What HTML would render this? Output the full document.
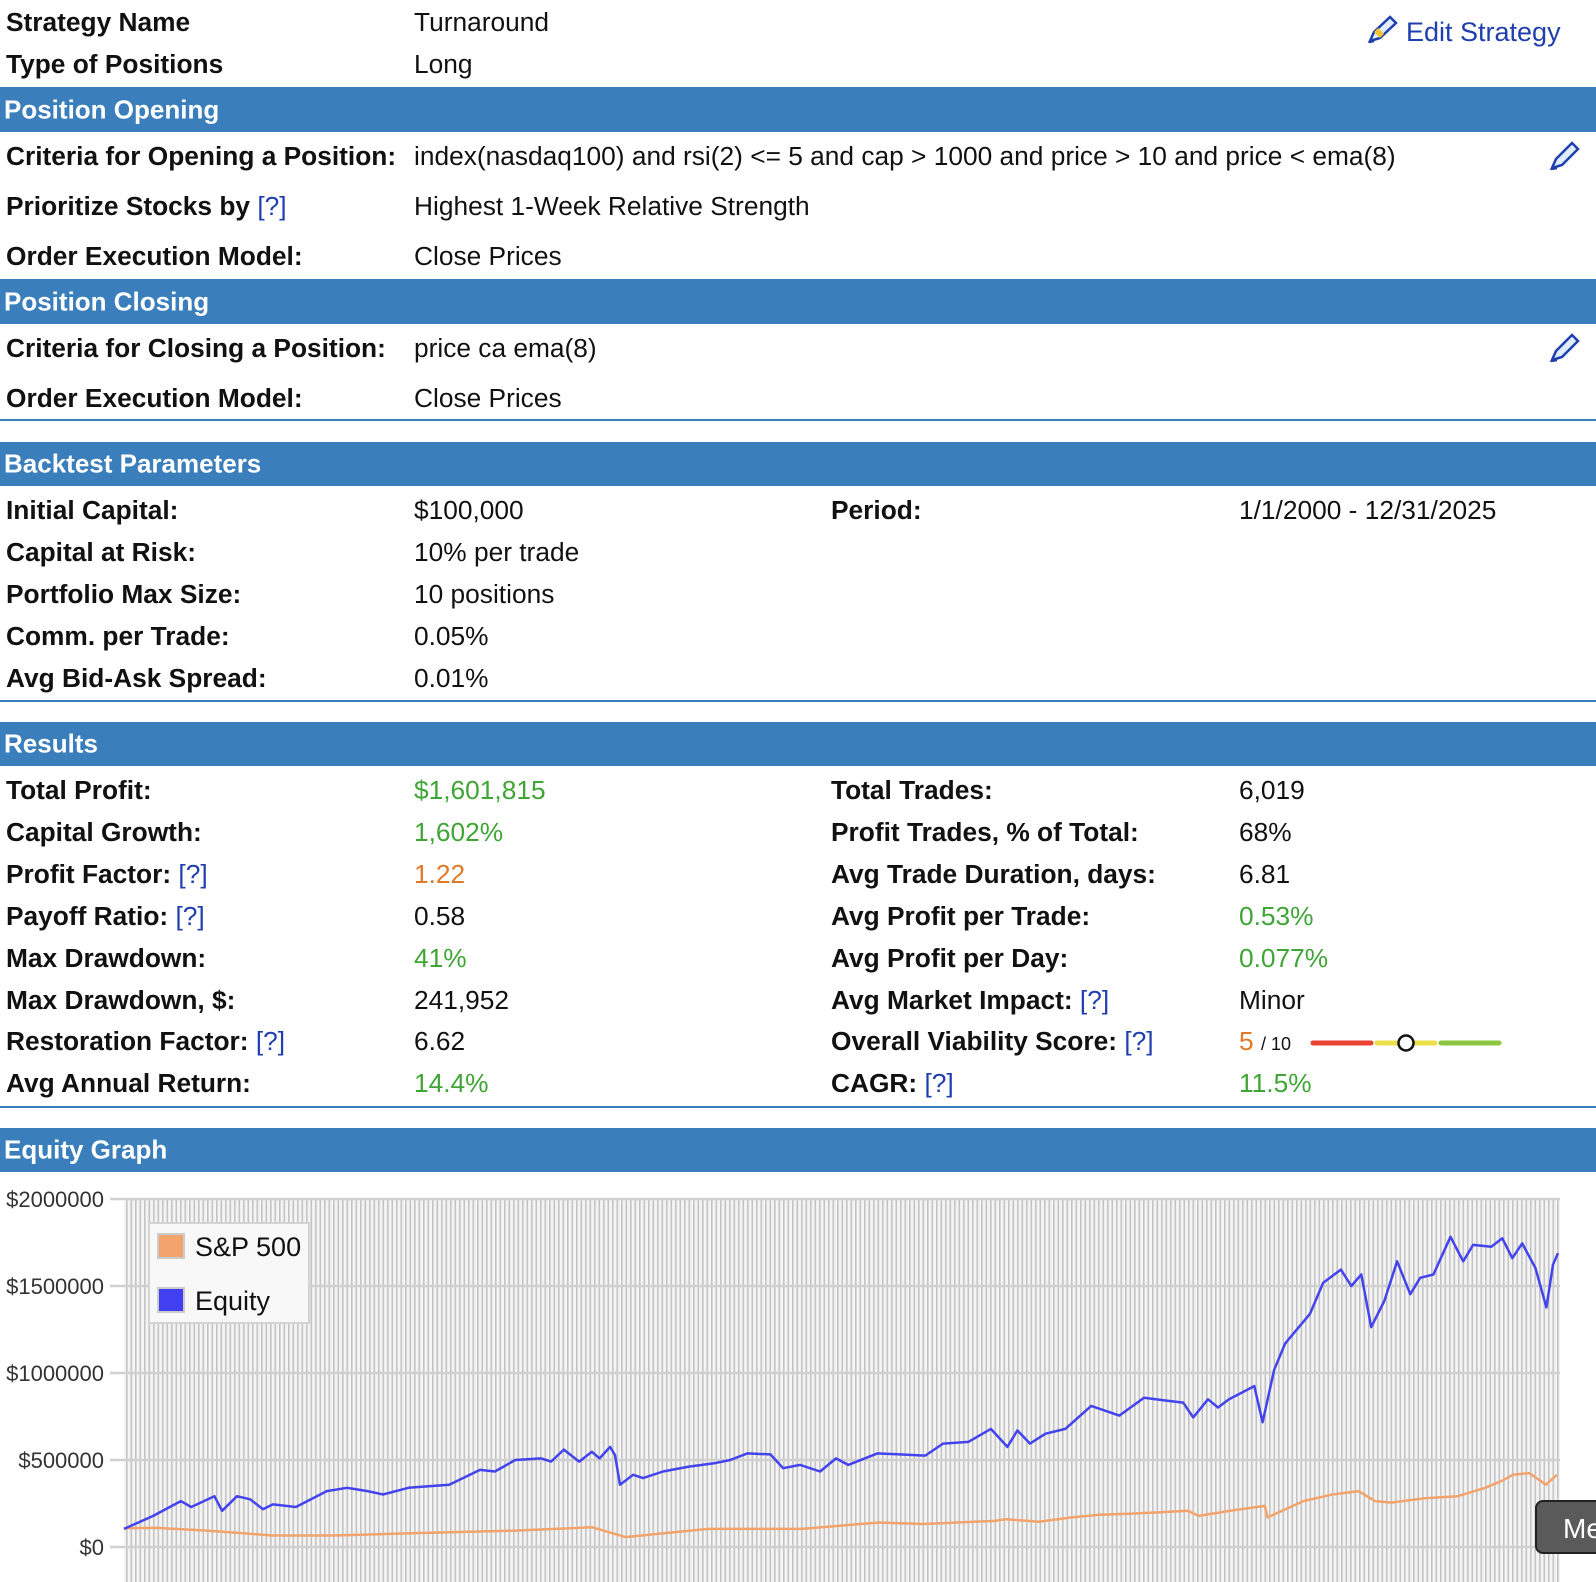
<!DOCTYPE html>
<html><head><meta charset="utf-8">
<style>
html,body{margin:0;padding:0;background:#fff;width:1596px;height:1582px;overflow:hidden;position:relative;font-family:"Liberation Sans",sans-serif;}
.t{position:absolute;font-size:26.3px;line-height:30px;color:#111;white-space:nowrap;transform:translateY(-15px);}
.b{font-weight:bold;}
.bar{position:absolute;left:0;width:1596px;background:#3a7fbb;color:#fff;font-weight:bold;font-size:26px;}
.bar span{position:absolute;left:4px;top:50%;transform:translateY(-50%);}
.hl{position:absolute;left:0;width:1596px;height:2px;background:#3a7fbb;}
.g{color:#3fa535}.o{color:#e07a27}.q{color:#1f3fae}
</style></head><body>
<div class="t b" style="left:6px;top:22px">Strategy Name</div>
<div class="t" style="left:414px;top:22px">Turnaround</div>
<div class="t b" style="left:6px;top:64px">Type of Positions</div>
<div class="t" style="left:414px;top:64px">Long</div>
<div class="t q" style="left:1366px;top:28px;font-size:27px"><svg width="34" height="32" viewBox="0 0 34 32" style="vertical-align:-4px;margin-right:6px"><path d="M4 28 L8 19 L24 4 L30 10 L14 25 Z" fill="#dfeefa" stroke="#1f3fae" stroke-width="2.5"/><path d="M8 19 L12 15 L18 21 L14 25 Z" fill="#f2c230"/><path d="M3 29 L8 28" stroke="#1f3fae" stroke-width="2.5"/></svg>Edit Strategy</div>

<div class="bar" style="top:87px;height:45px"><span>Position Opening</span></div>
<div class="t b" style="left:6px;top:156px">Criteria for Opening a Position:</div>
<div class="t" style="left:414px;top:156px">index(nasdaq100) and rsi(2) &lt;= 5 and cap &gt; 1000 and price &gt; 10 and price &lt; ema(8)</div>
<svg style="position:absolute;left:1548px;top:138px" width="34" height="34" viewBox="0 0 34 34"><path d="M4 30 L8 21 L24 5 L30 11 L14 27 Z" fill="#dfeefa" stroke="#1f3fae" stroke-width="2.5"/><path d="M3 31 L9 30" stroke="#1f3fae" stroke-width="2.5"/></svg>
<div class="t b" style="left:6px;top:206px">Prioritize Stocks by <span class="q" style="font-weight:normal">[?]</span></div>
<div class="t" style="left:414px;top:206px">Highest 1-Week Relative Strength</div>
<div class="t b" style="left:6px;top:256px">Order Execution Model:</div>
<div class="t" style="left:414px;top:256px">Close Prices</div>

<div class="bar" style="top:279px;height:45px"><span>Position Closing</span></div>
<div class="t b" style="left:6px;top:348px">Criteria for Closing a Position:</div>
<div class="t" style="left:414px;top:348px">price ca ema(8)</div>
<svg style="position:absolute;left:1548px;top:330px" width="34" height="34" viewBox="0 0 34 34"><path d="M4 30 L8 21 L24 5 L30 11 L14 27 Z" fill="#dfeefa" stroke="#1f3fae" stroke-width="2.5"/><path d="M3 31 L9 30" stroke="#1f3fae" stroke-width="2.5"/></svg>
<div class="t b" style="left:6px;top:398px">Order Execution Model:</div>
<div class="t" style="left:414px;top:398px">Close Prices</div>
<div class="hl" style="top:419px"></div>

<div class="bar" style="top:442px;height:44px"><span>Backtest Parameters</span></div>
<div class="t b" style="left:6px;top:510px">Initial Capital:</div>
<div class="t" style="left:414px;top:510px">$100,000</div>
<div class="t b" style="left:831px;top:510px">Period:</div>
<div class="t" style="left:1239px;top:510px">1/1/2000 - 12/31/2025</div>
<div class="t b" style="left:6px;top:552px">Capital at Risk:</div>
<div class="t" style="left:414px;top:552px">10% per trade</div>
<div class="t b" style="left:6px;top:594px">Portfolio Max Size:</div>
<div class="t" style="left:414px;top:594px">10 positions</div>
<div class="t b" style="left:6px;top:636px">Comm. per Trade:</div>
<div class="t" style="left:414px;top:636px">0.05%</div>
<div class="t b" style="left:6px;top:678px">Avg Bid-Ask Spread:</div>
<div class="t" style="left:414px;top:678px">0.01%</div>
<div class="hl" style="top:700px"></div>

<div class="bar" style="top:722px;height:44px"><span>Results</span></div>
<div class="t b" style="left:6px;top:790px">Total Profit:</div>
<div class="t g" style="left:414px;top:790px">$1,601,815</div>
<div class="t b" style="left:6px;top:832px">Capital Growth:</div>
<div class="t g" style="left:414px;top:832px">1,602%</div>
<div class="t b" style="left:6px;top:874px">Profit Factor: <span class="q" style="font-weight:normal">[?]</span></div>
<div class="t o" style="left:414px;top:874px">1.22</div>
<div class="t b" style="left:6px;top:916px">Payoff Ratio: <span class="q" style="font-weight:normal">[?]</span></div>
<div class="t" style="left:414px;top:916px">0.58</div>
<div class="t b" style="left:6px;top:958px">Max Drawdown:</div>
<div class="t g" style="left:414px;top:958px">41%</div>
<div class="t b" style="left:6px;top:1000px">Max Drawdown, $:</div>
<div class="t" style="left:414px;top:1000px">241,952</div>
<div class="t b" style="left:6px;top:1041px">Restoration Factor: <span class="q" style="font-weight:normal">[?]</span></div>
<div class="t" style="left:414px;top:1041px">6.62</div>
<div class="t b" style="left:6px;top:1083px">Avg Annual Return:</div>
<div class="t g" style="left:414px;top:1083px">14.4%</div>

<div class="t b" style="left:831px;top:790px">Total Trades:</div>
<div class="t" style="left:1239px;top:790px">6,019</div>
<div class="t b" style="left:831px;top:832px">Profit Trades, % of Total:</div>
<div class="t" style="left:1239px;top:832px">68%</div>
<div class="t b" style="left:831px;top:874px">Avg Trade Duration, days:</div>
<div class="t" style="left:1239px;top:874px">6.81</div>
<div class="t b" style="left:831px;top:916px">Avg Profit per Trade:</div>
<div class="t g" style="left:1239px;top:916px">0.53%</div>
<div class="t b" style="left:831px;top:958px">Avg Profit per Day:</div>
<div class="t g" style="left:1239px;top:958px">0.077%</div>
<div class="t b" style="left:831px;top:1000px">Avg Market Impact: <span class="q" style="font-weight:normal">[?]</span></div>
<div class="t" style="left:1239px;top:1000px">Minor</div>
<div class="t b" style="left:831px;top:1041px">Overall Viability Score: <span class="q" style="font-weight:normal">[?]</span></div>
<div class="t" style="left:1239px;top:1041px"><span class="o">5</span> <span style="font-size:18px">/ 10</span></div>
<svg style="position:absolute;left:1305px;top:1030px" width="205" height="26">
<line x1="8" y1="13" x2="66" y2="13" stroke="#ea4335" stroke-width="5" stroke-linecap="round"/>
<line x1="72" y1="13" x2="130" y2="13" stroke="#ece04a" stroke-width="5" stroke-linecap="round"/>
<line x1="136" y1="13" x2="194" y2="13" stroke="#8dc63f" stroke-width="5" stroke-linecap="round"/>
<circle cx="101" cy="13" r="7.5" fill="#fff" stroke="#111" stroke-width="2.5"/>
</svg>
<div class="t b" style="left:831px;top:1083px">CAGR: <span class="q" style="font-weight:normal">[?]</span></div>
<div class="t g" style="left:1239px;top:1083px">11.5%</div>
<div class="hl" style="top:1106px"></div>

<div class="bar" style="top:1128px;height:44px"><span>Equity Graph</span></div>

<svg id="chart" style="position:absolute;left:0;top:1172px" width="1596" height="410">
<defs><pattern id="vg" width="4.5" height="10" patternUnits="userSpaceOnUse"><rect width="4.5" height="10" fill="#f4f4f4"/><rect width="1.6" height="10" fill="#c4c4c4"/></pattern></defs>
<rect x="124" y="26" width="1436" height="390" fill="url(#vg)"/>
<g id="grid"></g><g id="lines"></g>
<g>
<rect x="149" y="51" width="160" height="100" fill="#f8f8f8" stroke="#d4d4d4" stroke-width="2"/>
<rect x="158" y="62" width="26" height="24" fill="#f2a46c" stroke="#ccc" stroke-width="2"/>
<text x="195" y="84" font-size="27" font-family="Liberation Sans,sans-serif" fill="#111">S&amp;P 500</text>
<rect x="158" y="116" width="26" height="24" fill="#4040f0" stroke="#ccc" stroke-width="2"/>
<text x="195" y="138" font-size="27" font-family="Liberation Sans,sans-serif" fill="#111">Equity</text>
</g>
</svg>
<div style="position:absolute;left:1535px;top:1500px;width:80px;height:54px;background:#5a5a5a;border:2px solid #222;border-radius:8px;color:#fff;font-size:28px;line-height:54px;padding-left:26px;box-sizing:border-box">Me</div>

<script>
const yTicks=[0,500000,1000000,1500000,2000000];
const yTickLabels=["$0","$500000","$1000000","$1500000","$2000000"];
const eqYears=[0,0.53,1.03,1.22,1.64,1.78,2.05,2.29,2.52,2.7,3.12,3.68,4.05,4.42,4.7,5.16,5.9,6.46,6.73,7.1,7.57,7.75,7.98,8.26,8.49,8.63,8.82,8.91,9.0,9.24,9.42,9.78,10.25,10.71,11.0,11.31,11.73,11.96,12.27,12.63,12.92,13.14,13.67,14.54,14.86,15.32,15.73,16.03,16.21,16.44,16.72,17.08,17.55,18.06,18.51,18.93,19.22,19.4,19.67,19.85,20.05,20.51,20.66,20.87,21.07,21.52,21.76,22.08,22.27,22.45,22.63,22.87,23.1,23.34,23.52,23.76,24.07,24.3,24.48,24.81,25.01,25.19,25.37,25.61,25.81,25.93,26.02];
const eqValues=[104,179,264,230,292,208,292,274,217,245,230,321,340,321,302,340,358,443,434,500,509,491,560,491,547,509,575,528,358,415,396,434,462,481,500,538,532,453,472,434,509,472,538,525,594,604,679,575,670,594,651,679,811,755,858,840,830,745,849,802,849,925,717,1019,1170,1340,1519,1594,1500,1566,1264,1415,1642,1453,1547,1566,1783,1642,1736,1726,1774,1660,1745,1604,1377,1623,1689];
const spYears=[0,0.6,1.5,2.7,3.8,5.3,7.1,8.5,9.1,10.6,12.3,13.7,14.5,15.8,16.0,16.6,17.2,17.7,18.2,18.8,19.3,19.5,20.1,20.7,20.75,21.4,21.9,22.4,22.7,23.0,23.6,24.2,24.7,25.0,25.2,25.5,25.8,26.0];
const spValues=[108,110,94,66,66,80,94,113,57,104,104,141,132,150,160,145,170,185,190,200,208,179,210,236,170,264,300,321,264,255,280,292,340,380,415,425,358,415];
const X0=124,X1=1558,YEARS=26.02,Y0=375,Y2M=27;
function sx(yr){return X0+(X1-X0)*yr/YEARS;}
function sy(v){return Y0-(Y0-Y2M)*v/2000000;}
const ns="http://www.w3.org/2000/svg";
const grid=document.getElementById('grid');
yTicks.forEach((v,i)=>{
 const l=document.createElementNS(ns,'line');
 l.setAttribute('x1',110);l.setAttribute('x2',1560);l.setAttribute('y1',sy(v));l.setAttribute('y2',sy(v));
 l.setAttribute('stroke','#d0d0d0');l.setAttribute('stroke-width','2.5');
 
 
 grid.appendChild(l);
 const t=document.createElementNS(ns,'text');
 t.setAttribute('x',104);t.setAttribute('y',sy(v)+8);t.setAttribute('text-anchor','end');
 t.setAttribute('font-size','22');t.setAttribute('font-family','Liberation Sans,sans-serif');t.setAttribute('fill','#333');
 t.textContent=yTickLabels[i];
 
 
 grid.appendChild(t);
});
const lines=document.getElementById('lines');
function mk(xs,vs,color,name){
 const p=document.createElementNS(ns,'polyline');
 p.setAttribute('points',xs.map((x,i)=>sx(x).toFixed(1)+','+sy(vs[i]*1000).toFixed(1)).join(' '));
 p.setAttribute('fill','none');p.setAttribute('stroke',color);p.setAttribute('stroke-width','2.5');p.setAttribute('stroke-linejoin','round');
 
 
 lines.appendChild(p);
}
mk(spYears,spValues,'#f2a46c','sp500-line');
mk(eqYears,eqValues,'#4444ee','equity-line');
</script>
</body></html>
